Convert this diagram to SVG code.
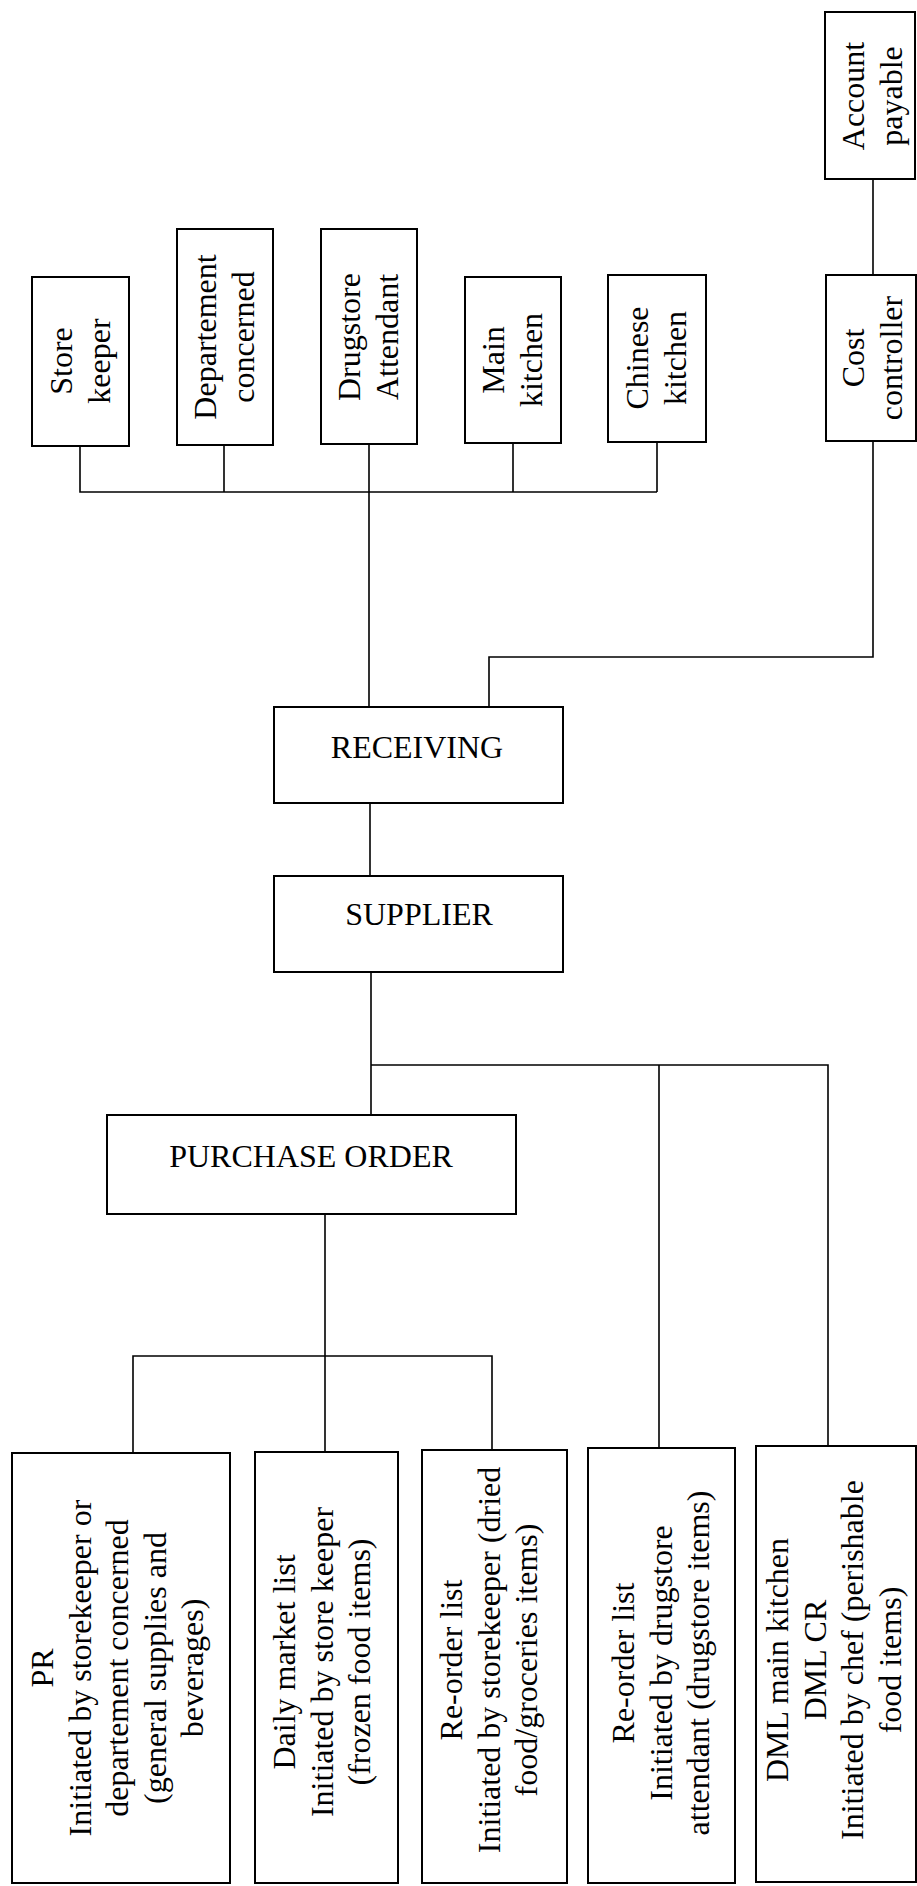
<svg xmlns="http://www.w3.org/2000/svg" width="917" height="1886" viewBox="0 0 917 1886">
<style>
.box{fill:#fff;stroke:#000;stroke-width:2}
.con{fill:none;stroke:#000;stroke-width:1.6}
.t{font-family:"Liberation Serif","Times New Roman",serif;font-size:32px;fill:#000;text-anchor:middle}
</style>
<rect width="917" height="1886" fill="#fff"/>
<g id="connectors">
<path class="con" d="M80,446V492H657M224,445V492M369,444V708M513,443V492M657,442V492"/>
<path class="con" d="M873,179V275M873,441V657H489V707"/>
<path class="con" d="M370,803V876"/>
<path class="con" d="M371,972V1115M371,1065H828V1446M659,1065V1448"/>
<path class="con" d="M325,1214V1452M133,1453V1356H492V1450"/>
</g>
<g id="store-keeper"><rect class="box" x="32" y="277" width="97" height="169"/>
<text class="t" transform="translate(72,361) rotate(-90)"><tspan x="0" y="0">Store</tspan><tspan x="0" dy="37.5">keeper</tspan></text></g>
<g id="departement-concerned"><rect class="box" x="177" y="229" width="96" height="216"/>
<text class="t" transform="translate(216,337) rotate(-90)"><tspan x="0" y="0">Departement</tspan><tspan x="0" dy="37.5">concerned</tspan></text></g>
<g id="drugstore-attendant"><rect class="box" x="321" y="229" width="96" height="215"/>
<text class="t" transform="translate(360,337) rotate(-90)"><tspan x="0" y="0">Drugstore</tspan><tspan x="0" dy="37.5">Attendant</tspan></text></g>
<g id="main-kitchen"><rect class="box" x="465" y="277" width="96" height="166"/>
<text class="t" transform="translate(504,360) rotate(-90)"><tspan x="0" y="0">Main</tspan><tspan x="0" dy="37.5">kitchen</tspan></text></g>
<g id="chinese-kitchen"><rect class="box" x="608" y="275" width="98" height="167"/>
<text class="t" transform="translate(648,358) rotate(-90)"><tspan x="0" y="0">Chinese</tspan><tspan x="0" dy="37.5">kitchen</tspan></text></g>
<g id="account-payable"><rect class="box" x="825" y="12" width="90" height="167"/>
<text class="t" transform="translate(864,96) rotate(-90)"><tspan x="0" y="0">Account</tspan><tspan x="0" dy="37.5">payable</tspan></text></g>
<g id="cost-controller"><rect class="box" x="826" y="275" width="90" height="166"/>
<text class="t" transform="translate(864,358) rotate(-90)"><tspan x="0" y="0">Cost</tspan><tspan x="0" dy="37.5">controller</tspan></text></g>
<g id="receiving"><rect class="box" x="274" y="707" width="289" height="96"/>
<text class="t" x="417" y="758">RECEIVING</text></g>
<g id="supplier"><rect class="box" x="274" y="876" width="289" height="96"/>
<text class="t" x="419" y="925">SUPPLIER</text></g>
<g id="purchase-order"><rect class="box" x="107" y="1115" width="409" height="99"/>
<text class="t" x="311" y="1167">PURCHASE ORDER</text></g>
<g id="pr"><rect class="box" x="12" y="1453" width="218" height="430"/>
<text class="t" transform="translate(53,1668) rotate(-90)"><tspan x="0" y="0">PR</tspan><tspan x="0" dy="37.5">Initiated by storekeeper or</tspan><tspan x="0" dy="37.5">departement concerned</tspan><tspan x="0" dy="37.5">(general supplies and</tspan><tspan x="0" dy="37.5">beverages)</tspan></text></g>
<g id="daily-market-list"><rect class="box" x="255" y="1452" width="143" height="431"/>
<text class="t" transform="translate(295,1662) rotate(-90)"><tspan x="0" y="0">Daily market list</tspan><tspan x="0" dy="37.5">Initiated by store keeper</tspan><tspan x="0" dy="37.5">(frozen food items)</tspan></text></g>
<g id="reorder-storekeeper"><rect class="box" x="422" y="1450" width="145" height="433"/>
<text class="t" transform="translate(462,1660) rotate(-90)"><tspan x="0" y="0">Re-order list</tspan><tspan x="0" dy="37.5">Initiated by storekeeper (dried</tspan><tspan x="0" dy="37.5">food/groceries items)</tspan></text></g>
<g id="reorder-drugstore"><rect class="box" x="588" y="1448" width="147" height="435"/>
<text class="t" transform="translate(634,1663) rotate(-90)"><tspan x="0" y="0">Re-order list</tspan><tspan x="0" dy="37.5">Initiated by drugstore</tspan><tspan x="0" dy="37.5">attendant (drugstore items)</tspan></text></g>
<g id="dml"><rect class="box" x="756" y="1446" width="160" height="436"/>
<text class="t" transform="translate(788,1660) rotate(-90)"><tspan x="0" y="0">DML main kitchen</tspan><tspan x="0" dy="37.5">DML CR</tspan><tspan x="0" dy="37.5">Initiated by chef (perishable</tspan><tspan x="0" dy="37.5">food items)</tspan></text></g>
</svg>
